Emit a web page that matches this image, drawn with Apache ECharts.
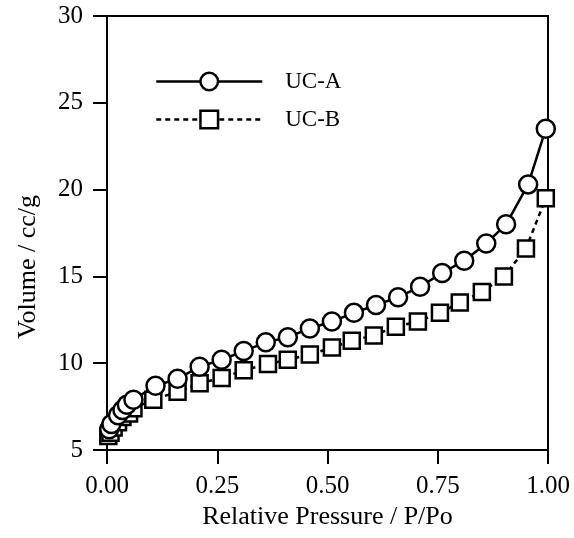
<!DOCTYPE html>
<html>
<head>
<meta charset="utf-8">
<script src="https://cdn.jsdelivr.net/npm/echarts@6/dist/echarts.min.js"></script>
<style>
html,body{margin:0;padding:0;background:#fff;}
#chart{width:574px;height:538px;}
</style>
</head>
<body>
<div id="chart"></div>
<script>
const seriesNames = ['UC-A', 'UC-B'];
const xTicks = [0, 0.25, 0.5, 0.75, 1];
const yTicks = [5, 10, 15, 20, 25, 30];

const pressureA = [0.005, 0.01, 0.025, 0.035, 0.045, 0.06, 0.11, 0.16, 0.21, 0.26, 0.31, 0.36, 0.41, 0.46, 0.51, 0.56, 0.61, 0.66, 0.71, 0.76, 0.81, 0.86, 0.905, 0.955, 0.995];
const volumeA   = [6.2, 6.5, 7.0, 7.3, 7.6, 7.9, 8.7, 9.1, 9.8, 10.2, 10.7, 11.2, 11.5, 12.0, 12.4, 12.9, 13.35, 13.8, 14.4, 15.2, 15.9, 16.9, 18.0, 20.3, 23.5];

const pressureB = [0.003, 0.008, 0.015, 0.025, 0.035, 0.05, 0.06, 0.105, 0.16, 0.21, 0.26, 0.31, 0.365, 0.41, 0.46, 0.51, 0.555, 0.605, 0.655, 0.705, 0.755, 0.80, 0.85, 0.90, 0.95, 0.995];
const volumeB   = [5.8, 6.0, 6.3, 6.6, 6.9, 7.1, 7.4, 7.9, 8.35, 8.85, 9.15, 9.6, 9.95, 10.2, 10.5, 10.9, 11.3, 11.6, 12.1, 12.4, 12.9, 13.5, 14.1, 15.0, 16.6, 19.5];

const zip = (xs, ys) => xs.map((x, i) => [x, ys[i]]);
const font = 'Liberation Serif';

const chart = echarts.init(document.getElementById('chart'), null, {renderer: 'canvas'});
chart.setOption({
  animation: false,
  backgroundColor: '#fff',
  grid: {left: 107, right: 26, top: 16, bottom: 88, show: true, borderColor: '#000', borderWidth: 2, backgroundColor: 'transparent'},
  legend: {
    orient: 'vertical', left: 150, top: 65,
    itemWidth: 106, itemHeight: 22, itemGap: 15,
    data: seriesNames,
    lineStyle: {width: 2.5},
    itemStyle: {borderWidth: 2.5},
    textStyle: {fontFamily: font, fontSize: 23, color: '#000', padding: [0, 0, 0, 18]}
  },
  xAxis: {
    type: 'value', min: xTicks[0], max: xTicks[xTicks.length - 1], interval: 0.25,
    name: 'Relative Pressure / P/Po', nameLocation: 'middle', nameGap: 54,
    nameTextStyle: {fontFamily: font, fontSize: 26, color: '#000'},
    axisLine: {lineStyle: {color: '#000', width: 2}},
    axisTick: {inside: false, length: 14, lineStyle: {color: '#000', width: 2}},
    axisLabel: {fontFamily: font, fontSize: 25, color: '#000', margin: 24, formatter: v => v.toFixed(2)},
    splitLine: {show: false}
  },
  yAxis: {
    type: 'value', min: yTicks[0], max: yTicks[yTicks.length - 1], interval: 5,
    name: 'Volume / cc/g', nameLocation: 'middle', nameGap: 66,
    nameTextStyle: {fontFamily: font, fontSize: 26, color: '#000', padding: [0, 68, 0, 0]},
    axisLine: {lineStyle: {color: '#000', width: 2}},
    axisTick: {inside: false, length: 14, lineStyle: {color: '#000', width: 2}},
    axisLabel: {fontFamily: font, fontSize: 25, color: '#000', margin: 24},
    splitLine: {show: false}
  },
  series: [
    {
      name: seriesNames[0], type: 'line', data: zip(pressureA, volumeA),
      symbol: 'circle', symbolSize: 18, showAllSymbol: true,
      lineStyle: {color: '#000', width: 2.5},
      itemStyle: {color: '#fff', borderColor: '#000', borderWidth: 2.5},
      z: 3
    },
    {
      name: seriesNames[1], type: 'line', data: zip(pressureB, volumeB),
      symbol: 'rect', symbolSize: 16, showAllSymbol: true,
      lineStyle: {color: '#000', width: 2.5, type: [5, 4]},
      itemStyle: {color: '#fff', borderColor: '#000', borderWidth: 2.5},
      z: 2
    }
  ]
});
</script>
</body>
</html>
